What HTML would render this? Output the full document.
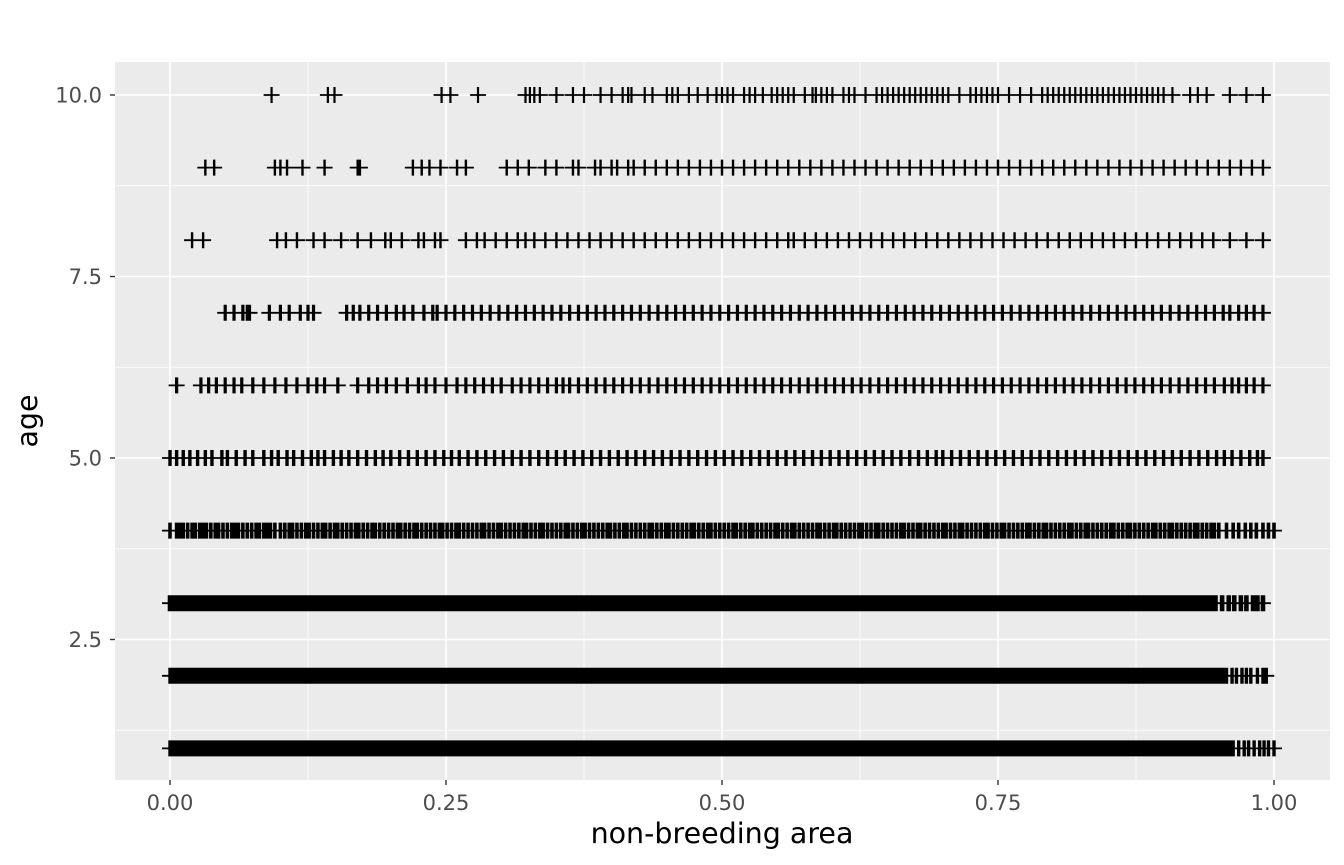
<!DOCTYPE html>
<html><head><meta charset="utf-8"><style>
body{margin:0;background:#fff;}
svg{display:block;font-family:"DejaVu Sans","Liberation Sans",sans-serif;}
</style></head><body>
<svg id="chart" width="1344" height="865">
<rect x="115" y="62" width="1215" height="718" fill="#ebebeb"/>
<g id="grid"></g><g id="ticks"></g><g id="marks"></g>
<text x="722" y="843" text-anchor="middle" font-size="28.5" fill="#000">non-breeding area</text>
<text transform="translate(37,421) rotate(-90)" text-anchor="middle" font-size="28.5" fill="#000">age</text>
</svg>
<script>
const xTicks=[0,0.25,0.5,0.75,1.0];
const xTickLabels=["0.00","0.25","0.50","0.75","1.00"];
const yTicks=[2.5,5.0,7.5,10.0];
const yTickLabels=["2.5","5.0","7.5","10.0"];
const ages=[1,2,3,4,5,6,7,8,9,10];
const row1=[0,.005,.011,.017,.022,.028,.034,.039,.045,.051,.056,.062,.068,.073,.079,.085,.09,.096,.102,.107,.113,.119,.124,.13,.136,.141,.147,.153,.158,.164,.17,.175,.181,.187,.192,.198,.204,.209,.215,.221,.226,.232,.238,.243,.249,.255,.26,.266,.272,.277,.283,.289,.294,.3,.306,.311,.317,.323,.328,.334,.34,.345,.351,.357,.362,.368,.374,.379,.385,.391,.396,.402,.408,.413,.419,.425,.43,.436,.442,.447,.453,.459,.464,.47,.476,.481,.487,.493,.498,.504,.51,.515,.521,.527,.532,.538,.544,.549,.555,.561,.566,.572,.578,.583,.589,.595,.6,.606,.612,.617,.623,.629,.634,.64,.646,.651,.657,.663,.668,.674,.68,.685,.691,.697,.702,.708,.714,.719,.725,.731,.736,.742,.748,.753,.759,.765,.77,.776,.782,.787,.793,.799,.804,.81,.816,.821,.827,.833,.838,.844,.85,.855,.861,.867,.872,.878,.884,.889,.895,.901,.906,.912,.918,.923,.929,.935,.94,.946,.952,.957,.963,.968,.973,.977,.982,.987,.991,.995,1.0];
const row1b=[.003,.008,.014,.020,.025,.031,.037,.042,.048,.054,.059,.065,.071,.076,.082,.088,.093,.099,.105,.110,.116,.122,.127,.133,.139,.144,.150,.156,.161,.167,.173,.178,.184,.190,.195,.201,.207,.212,.218,.224,.229,.235,.241,.246,.252,.258,.263,.269,.275,.280,.286,.292,.297,.303,.309,.314,.320,.326,.331,.337,.343,.348,.354,.360,.365,.371,.377,.382,.388,.394,.399,.405,.411,.416,.422,.428,.433,.439,.445,.450,.456,.462,.467,.473,.479,.484,.490,.496,.501,.507,.513,.518,.524,.530,.535,.541,.547,.552,.558,.564,.569,.575,.581,.586,.592,.598,.603,.609,.615,.620,.626,.632,.637,.643,.649,.654,.660,.666,.671,.677,.683,.688,.694,.700,.705,.711,.717,.722,.728,.734,.739,.745,.751,.756,.762,.768,.773,.779,.785,.790,.796,.802,.807,.813,.819,.824,.830,.836,.841,.847,.853,.858,.864,.870,.875,.881,.887,.892,.898,.904,.909,.915,.921,.926,.932,.938,.943,.949,.955,.960];
const row2=[0,.005,.011,.017,.022,.028,.034,.039,.045,.051,.056,.062,.068,.073,.079,.085,.09,.096,.102,.107,.113,.119,.124,.13,.136,.141,.147,.153,.158,.164,.17,.175,.181,.187,.192,.198,.204,.209,.215,.221,.226,.232,.238,.243,.249,.255,.26,.266,.272,.277,.283,.289,.294,.3,.306,.311,.317,.323,.328,.334,.34,.345,.351,.357,.362,.368,.374,.379,.385,.391,.396,.402,.408,.413,.419,.425,.43,.436,.442,.447,.453,.459,.464,.47,.476,.481,.487,.493,.498,.504,.51,.515,.521,.527,.532,.538,.544,.549,.555,.561,.566,.572,.578,.583,.589,.595,.6,.606,.612,.617,.623,.629,.634,.64,.646,.651,.657,.663,.668,.674,.68,.685,.691,.697,.702,.708,.714,.719,.725,.731,.736,.742,.748,.753,.759,.765,.77,.776,.782,.787,.793,.799,.804,.81,.816,.821,.827,.833,.838,.844,.85,.855,.861,.867,.872,.878,.884,.889,.895,.901,.906,.912,.918,.923,.929,.935,.94,.946,.952,.957,.962,.966,.971,.975,.979,.985,.99,.993];
const row2b=[.003,.008,.014,.020,.025,.031,.037,.042,.048,.054,.059,.065,.071,.076,.082,.088,.093,.099,.105,.110,.116,.122,.127,.133,.139,.144,.150,.156,.161,.167,.173,.178,.184,.190,.195,.201,.207,.212,.218,.224,.229,.235,.241,.246,.252,.258,.263,.269,.275,.280,.286,.292,.297,.303,.309,.314,.320,.326,.331,.337,.343,.348,.354,.360,.365,.371,.377,.382,.388,.394,.399,.405,.411,.416,.422,.428,.433,.439,.445,.450,.456,.462,.467,.473,.479,.484,.490,.496,.501,.507,.513,.518,.524,.530,.535,.541,.547,.552,.558,.564,.569,.575,.581,.586,.592,.598,.603,.609,.615,.620,.626,.632,.637,.643,.649,.654,.660,.666,.671,.677,.683,.688,.694,.700,.705,.711,.717,.722,.728,.734,.739,.745,.751,.756,.762,.768,.773,.779,.785,.790,.796,.802,.807,.813,.819,.824,.830,.836,.841,.847,.853,.858,.864,.870,.875,.881,.887,.892,.898,.904,.909,.915,.921,.926,.932,.938,.943,.949,.955];
const row3=[0,.004,.01,.016,.022,.029,.035,.041,.048,.054,.06,.067,.073,.079,.086,.092,.098,.105,.111,.117,.124,.13,.136,.143,.149,.155,.162,.168,.174,.181,.187,.193,.2,.206,.212,.219,.225,.231,.238,.244,.25,.257,.263,.269,.276,.282,.288,.295,.301,.307,.314,.32,.326,.333,.339,.345,.352,.358,.364,.371,.377,.383,.39,.396,.402,.409,.415,.421,.428,.434,.44,.447,.453,.459,.466,.472,.478,.485,.491,.497,.504,.51,.516,.523,.529,.535,.542,.548,.554,.561,.567,.573,.58,.586,.592,.599,.605,.611,.618,.624,.63,.637,.643,.649,.656,.662,.668,.675,.681,.687,.694,.7,.706,.713,.719,.725,.732,.738,.744,.751,.757,.763,.77,.776,.782,.789,.795,.801,.808,.814,.82,.827,.833,.839,.846,.852,.858,.865,.871,.877,.884,.89,.896,.903,.909,.915,.922,.928,.934,.941,.947,.953,.959,.964,.97,.975,.981,.985,.99];
const row3b=[.007,.013,.019,.026,.032,.038,.045,.051,.057,.064,.070,.076,.083,.089,.095,.102,.108,.114,.121,.127,.133,.140,.146,.152,.159,.165,.171,.178,.184,.190,.197,.203,.209,.216,.222,.228,.235,.241,.247,.254,.260,.266,.273,.279,.285,.292,.298,.304,.311,.317,.323,.330,.336,.342,.349,.355,.361,.368,.374,.380,.387,.393,.399,.406,.412,.418,.425,.431,.437,.444,.450,.456,.463,.469,.475,.482,.488,.494,.501,.507,.513,.520,.526,.532,.539,.545,.551,.558,.564,.570,.577,.583,.589,.596,.602,.608,.615,.621,.627,.634,.640,.646,.653,.659,.665,.672,.678,.684,.691,.697,.703,.710,.716,.722,.729,.735,.741,.748,.754,.760,.767,.773,.779,.786,.792,.798,.805,.811,.817,.824,.830,.836,.843,.849,.855,.862,.868,.874,.881,.887,.893,.900,.906,.912,.919,.925,.931,.938,.944];
const row4=[0,.006,.012,.02,.027,.033,.041,.048,.056,.062,.07,.078,.085,.091,.1,.108,.115,.123,.13,.138,.145,.152,.16,.168,.175,.183,.19,.198,.206,.213,.221,.228,.236,.244,.251,.259,.266,.274,.282,.289,.297,.304,.312,.32,.327,.335,.342,.35,.358,.365,.373,.38,.388,.396,.403,.411,.418,.426,.434,.441,.449,.456,.464,.472,.479,.487,.494,.502,.51,.517,.525,.532,.54,.548,.555,.563,.57,.578,.586,.593,.601,.608,.616,.624,.631,.639,.646,.654,.662,.669,.677,.684,.692,.7,.707,.715,.722,.73,.738,.745,.753,.76,.768,.776,.783,.791,.798,.806,.814,.821,.829,.836,.844,.852,.859,.867,.874,.882,.89,.897,.905,.912,.92,.928,.935,.943,.95,.957,.963,.968,.974,.979,.984,.99,.995,1.0];
const row4b=[.009,.016,.023,.03,.037,.044,.052,.059,.066,.074,.081,.088,.095,.104,.111,.119,.126,.134,.141,.149,.156,.164,.171,.179,.186,.194,.202,.209,.217,.224,.232,.24,.247,.255,.262,.27,.278,.285,.293,.3,.308,.316,.323,.331,.338,.346,.354,.361,.369,.376,.384,.392,.399,.407,.414,.422,.43,.437,.445,.452,.46,.468,.475,.483,.49,.498,.506,.513,.521,.528,.536,.544,.551,.559,.566,.574,.582,.589,.597,.604,.612,.62,.627,.635,.642,.65,.658,.665,.673,.68,.688,.696,.703,.711,.718,.726,.734,.741,.749,.756,.764,.772,.779,.787,.794,.802,.81,.817,.825,.832,.84,.848,.855,.863,.87,.878,.886,.893,.901,.908,.916,.924,.931,.939,.946];
const row5=[0,.006,.012,.018,.025,.032,.038,.047,.052,.06,.068,.075,.085,.092,.098,.106,.112,.12,.128,.134,.14,.148,.155,.162,.17,.178,.186,.193,.2,.208,.216,.224,.232,.24,.248,.255,.262,.27,.278,.286,.294,.302,.31,.318,.326,.334,.342,.35,.358,.366,.374,.382,.39,.398,.406,.414,.422,.43,.438,.446,.454,.462,.47,.478,.486,.494,.502,.51,.518,.526,.534,.542,.55,.558,.566,.574,.582,.59,.598,.606,.614,.622,.63,.638,.646,.654,.662,.67,.678,.686,.694,.7,.708,.716,.724,.732,.74,.748,.756,.764,.772,.78,.788,.796,.804,.812,.82,.828,.836,.844,.852,.86,.868,.876,.884,.892,.9,.908,.916,.924,.932,.94,.948,.955,.962,.97,.978,.985,.99];
const row6=[.006,.028,.035,.042,.05,.058,.065,.075,.085,.095,.105,.115,.125,.133,.14,.152,.17,.18,.188,.196,.205,.215,.225,.232,.24,.25,.26,.268,.276,.284,.292,.3,.31,.318,.326,.334,.342,.35,.356,.362,.37,.378,.386,.394,.402,.41,.418,.426,.434,.442,.45,.458,.466,.474,.482,.49,.498,.506,.514,.522,.53,.538,.546,.554,.562,.57,.578,.586,.594,.602,.61,.618,.626,.634,.642,.65,.658,.666,.674,.682,.69,.698,.706,.714,.722,.73,.738,.746,.754,.762,.77,.778,.786,.794,.802,.81,.818,.826,.834,.842,.85,.858,.866,.874,.882,.89,.898,.906,.914,.922,.93,.938,.946,.955,.962,.968,.975,.982,.99];
const row7=[.05,.058,.066,.07,.072,.09,.1,.108,.118,.125,.13,.16,.166,.172,.18,.188,.196,.205,.212,.22,.23,.238,.242,.25,.258,.266,.274,.282,.29,.298,.306,.314,.322,.33,.338,.346,.354,.362,.37,.378,.386,.394,.402,.41,.418,.426,.434,.442,.45,.458,.466,.474,.482,.49,.498,.506,.514,.522,.53,.538,.546,.554,.562,.57,.578,.586,.594,.602,.61,.618,.626,.634,.642,.65,.658,.666,.674,.682,.69,.698,.706,.714,.722,.73,.738,.746,.754,.762,.77,.778,.786,.794,.802,.81,.818,.826,.834,.842,.85,.858,.866,.874,.882,.89,.898,.906,.914,.922,.93,.938,.946,.954,.96,.968,.975,.982,.99];
const row8=[.02,.03,.097,.105,.115,.13,.14,.155,.17,.182,.195,.2,.21,.225,.23,.24,.245,.268,.278,.285,.295,.305,.315,.322,.33,.34,.35,.36,.37,.38,.39,.4,.41,.42,.43,.44,.45,.46,.47,.48,.49,.5,.51,.52,.53,.54,.55,.56,.565,.575,.585,.595,.605,.615,.625,.635,.645,.655,.665,.675,.685,.695,.705,.715,.725,.735,.745,.755,.765,.775,.785,.795,.805,.815,.825,.835,.845,.855,.865,.875,.885,.895,.905,.915,.925,.935,.945,.96,.975,.99];
const row9=[.032,.04,.095,.1,.106,.12,.14,.17,.172,.22,.228,.235,.245,.26,.268,.305,.315,.325,.34,.35,.365,.37,.385,.39,.4,.405,.415,.42,.43,.44,.45,.46,.47,.48,.49,.5,.51,.52,.53,.54,.55,.56,.57,.58,.59,.6,.61,.62,.63,.64,.65,.66,.67,.68,.69,.7,.71,.72,.73,.74,.75,.76,.77,.78,.79,.8,.81,.82,.83,.84,.85,.86,.87,.88,.89,.9,.91,.92,.93,.94,.95,.96,.97,.98,.99];
const row10=[.092,.143,.149,.246,.254,.279,.322,.326,.33,.335,.35,.365,.375,.39,.4,.41,.415,.418,.43,.437,.45,.455,.46,.47,.478,.487,.495,.5,.505,.51,.52,.525,.53,.537,.545,.55,.555,.56,.565,.575,.582,.585,.59,.595,.6,.61,.615,.62,.63,.64,.645,.65,.655,.66,.665,.67,.675,.68,.685,.69,.695,.7,.705,.715,.725,.73,.735,.74,.745,.75,.76,.77,.78,.79,.795,.8,.805,.81,.815,.82,.825,.83,.835,.84,.845,.85,.855,.86,.865,.87,.875,.88,.885,.89,.895,.9,.908,.924,.931,.939,.96,.975,.99];
const rows=[row1.concat(row1b),row2.concat(row2b),row3.concat(row3b),row4.concat(row4b),row5,row6,row7,row8,row9,row10];
// vertical stroke width per row (style, mimics overplotting density)
const vStroke=[3.4,3.4,4.6,3.6,3.4,3.2,3.2,2.4,2.4,2.2];

const NS="http://www.w3.org/2000/svg";
const X0=170,X1=1274,Y10=95,Y5=458;
function sx(v){return X0+(X1-X0)*v;}
function sy(v){return Y5+(Y10-Y5)*(v-5)/5;}
function mk(tag,attrs,parent){const e=document.createElementNS(NS,tag);for(const k in attrs)e.setAttribute(k,attrs[k]);parent.appendChild(e);return e;}
const grid=document.getElementById('grid'),ticks=document.getElementById('ticks'),marks=document.getElementById('marks');
for(let i=0;i<xTicks.length-1;i++){const v=(xTicks[i]+xTicks[i+1])/2;const l=mk('line',{x1:sx(v),x2:sx(v),y1:62,y2:780,stroke:'#fff','stroke-width':0.8},grid);

}
const yMinor=[1.25,3.75,6.25,8.75];
yMinor.forEach(v=>{const l=mk('line',{x1:115,x2:1330,y1:sy(v),y2:sy(v),stroke:'#fff','stroke-width':0.8},grid);

});
xTicks.forEach((v,i)=>{const l=mk('line',{x1:sx(v),x2:sx(v),y1:62,y2:780,stroke:'#fff','stroke-width':1.6},grid);


const t=mk('line',{x1:sx(v),x2:sx(v),y1:780,y2:785,stroke:'#333','stroke-width':1.4},ticks);


const tx=mk('text',{x:sx(v),y:810,'text-anchor':'middle','font-size':21,fill:'#4d4d4d'},ticks);tx.textContent=xTickLabels[i];

});
yTicks.forEach((v,i)=>{const l=mk('line',{x1:115,x2:1330,y1:sy(v),y2:sy(v),stroke:'#fff','stroke-width':1.6},grid);


const t=mk('line',{x1:110,x2:115,y1:sy(v),y2:sy(v),stroke:'#333','stroke-width':1.4},ticks);


const tx=mk('text',{x:102,y:sy(v)+7.5,'text-anchor':'end','font-size':21,fill:'#4d4d4d'},ticks);tx.textContent=yTickLabels[i];

});
const H=8;
rows.forEach((r,ri)=>{const y=sy(ages[ri]);let dh='',dv='';
r.forEach(v=>{const x=sx(v);dh+=`M${x-H},${y}H${x+H}`;dv+=`M${x},${y-H}V${y+H}`;});
const g=mk('g',{},marks);


mk('path',{d:dh,stroke:'#000','stroke-width':1.8,fill:'none'},g);
mk('path',{d:dv,stroke:'#000','stroke-width':vStroke[ri],fill:'none'},g);});
</script>
</body></html>
